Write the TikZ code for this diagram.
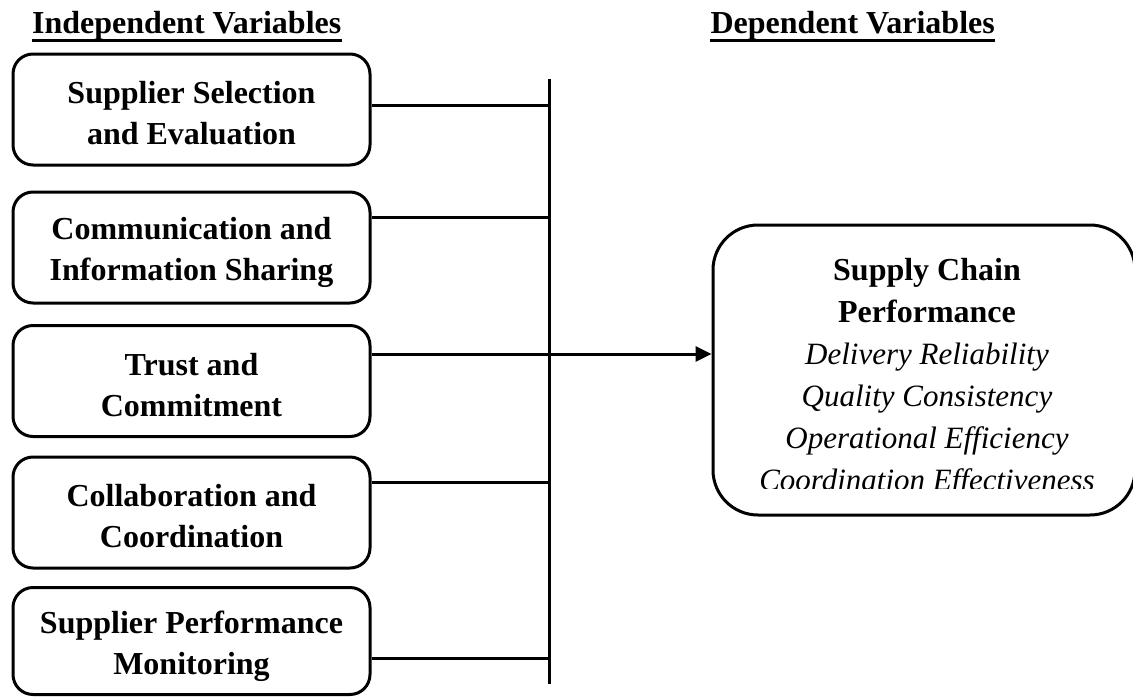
\documentclass[tikz,border=0pt]{standalone}
\usepackage{fontspec}
\setmainfont{Liberation Serif}
\usetikzlibrary{arrows.meta}
\newcommand\lstrut{\rule[-4pt]{0pt}{37pt}}
\newcommand\rstrut{\rule[-9pt]{0pt}{33pt}}
\tikzset{
  ivbox/.style={draw, line width=3pt, rounded corners=20pt, minimum width=357pt,
    minimum height=111pt, inner sep=0pt, align=center,
    font=\fontsize{32}{41}\selectfont\bfseries},
  dvbox/.style={draw, line width=3pt, rounded corners=45pt, minimum width=422pt,
    minimum height=290pt, inner sep=0pt},
  link/.style={line width=3pt},
  hdr/.style={font=\fontsize{32}{38}\selectfont\bfseries, inner sep=0pt},
  dvtext/.style={inner sep=0pt, align=center, font=\fontsize{32}{42}\selectfont}
}
\begin{document}
\begin{tikzpicture}[x=1pt,y=-1pt]
\useasboundingbox (0,0) rectangle (1133,697);

% headers
\node[hdr, anchor=base west] (hl) at (32,33) {Independent Variables};
\node[hdr, anchor=base east] (hr) at (995,33) {Dependent Variables};
\draw[line width=3pt] ([yshift=-7pt]hl.base west) -- ([yshift=-7pt]hl.base east);
\draw[line width=3pt] ([yshift=-7pt]hr.base west) -- ([yshift=-7pt]hr.base east);

% independent variable boxes
\node[ivbox] (b1) at (191.5,109.5) {\lstrut Supplier Selection\\\lstrut and Evaluation};
\node[ivbox] (b2) at (191.5,247.5) {\lstrut Communication and\\\lstrut Information Sharing};
\node[ivbox] (b3) at (191.5,381) {\lstrut Trust and\\\lstrut Commitment};
\node[ivbox] (b4) at (191.5,512.5) {\lstrut Collaboration and\\\lstrut Coordination};
\node[ivbox, minimum height=107pt] (b5) at (191.5,641) {\lstrut Supplier Performance\\\lstrut Monitoring};

% dependent variable box
\node[dvbox] (perf) at (924,370) {};
\begin{scope}
  \clip (600,0) rectangle (1133,488);
  \node[dvtext, anchor=north] (perftxt) at (927,256)
    {\bfseries\rstrut Supply Chain\\
     \bfseries\rstrut Performance\\
     \itshape\fontsize{31}{42}\selectfont\rstrut Delivery Reliability\\
     \itshape\fontsize{31}{42}\selectfont\rstrut Quality Consistency\\
     \itshape\fontsize{31}{42}\selectfont\rstrut Operational Efficiency\\
     \itshape\fontsize{31}{42}\selectfont\rstrut Coordination Effectiveness};
\end{scope}

% bus
\coordinate (bt) at (549,79);
\coordinate (bb) at (549,684);
\draw[link] (bt) -- (bb);

% connectors
\coordinate (s1) at ([yshift=4.5pt]b1.east);
\coordinate (s2) at ([yshift=30.5pt]b2.east);
\coordinate (s3) at ([yshift=27pt]b3.east);
\coordinate (s4) at ([yshift=30.5pt]b4.east);
\coordinate (s5) at ([yshift=-17pt]b5.east);
\draw[link] (s1) -- (s1 -| bt);
\draw[link] (s2) -- (s2 -| bt);
\draw[link] (s3) -- (s3 -| bt);
\draw[link] (s4) -- (s4 -| bt);
\draw[link] (s5) -- (s5 -| bt);
\draw[link, -{Triangle[length=16pt,width=15pt]}] (s3 -| bt) -- (s3 -| perf.west);
\end{tikzpicture}
\end{document}
